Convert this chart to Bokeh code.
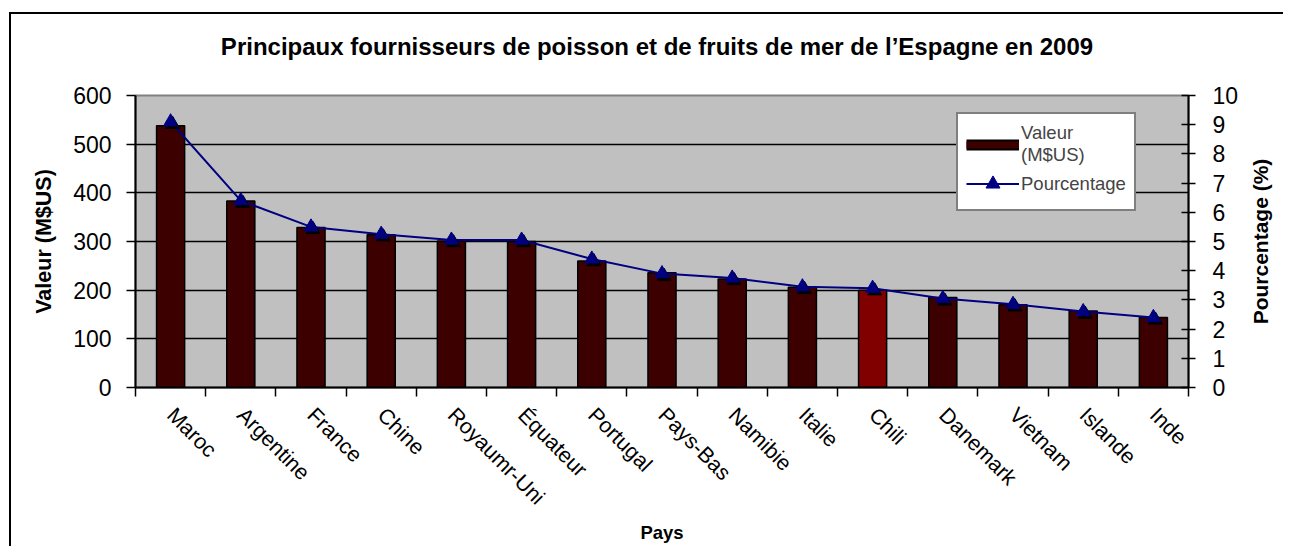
import math
from bokeh.plotting import figure
from bokeh.models import (ColumnDataSource, Range1d, LinearAxis, FixedTicker,
                          Legend, LegendItem, Label)
from bokeh.transform import dodge
from bokeh.embed import file_html
from bokeh.resources import INLINE

# ---- data ----
countries = ["Maroc", "Argentine", "France", "Chine", "Royaumr-Uni", "Équateur",
             "Portugal", "Pays-Bas", "Namibie", "Italie", "Chili", "Danemark",
             "Vietnam", "Islande", "Inde"]
valeur = [538, 383, 329, 314, 301, 300, 260, 236, 223, 206, 200, 185, 170, 157, 144]
pourcentage = [9.1, 6.4, 5.5, 5.25, 5.05, 5.05, 4.4, 3.9, 3.75, 3.45, 3.4, 3.05, 2.85, 2.6, 2.4]
valeur_ticks = [0, 100, 200, 300, 400, 500, 600]
pct_ticks = [0, 1, 2, 3, 4, 5, 6, 7, 8, 9, 10]
highlight = "Chili"
title_text = "Principaux fournisseurs de poisson et de fruits de mer de l\u2019Espagne en 2009"

FONT = "Liberation Sans"
BAR = "#3C0000"
BAR_HI = "#800000"
NAVY = "#000080"
FW, FH = 1053, 292

n = len(countries)
centers = [i + 0.5 for i in range(n)]          # category slots on a linear x scale
edges = list(range(n + 1))                      # slot boundaries (Excel-style ticks)
colors = [BAR_HI if c == highlight else BAR for c in countries]
src = ColumnDataSource(dict(x=centers, pays=countries, valeur=valeur,
                            pct=pourcentage, color=colors))

p = figure(x_range=Range1d(0, n), y_range=Range1d(0, 600),
           frame_width=FW, frame_height=FH,
           min_border_left=124, min_border_right=95, min_border_top=81, min_border_bottom=158,
           output_backend="svg", toolbar_location=None, x_axis_location=None,
           background_fill_color="#C0C0C0", border_fill_color="white")
p.styles = {"margin-left": "9px", "margin-top": "12px",
            "border-left": "2px solid black", "border-top": "2px solid black"}
p.outline_line_color = "#808080"
p.outline_line_width = 2

p.extra_y_ranges = {"pct": Range1d(0, 10)}

# chart title, centred above the frame
p.add_layout(Label(x=FW / 2 - 5, y=49, x_units="screen", y_units="screen",
                   text=title_text, text_align="center", text_baseline="middle",
                   text_font=FONT, text_font_size="24px", text_font_style="bold",
                   text_color="black"), "above")

# left axis
ya = p.yaxis[0]
ya.ticker = FixedTicker(ticks=valeur_ticks)
ya.axis_label = "Valeur (M$US)"
ya.axis_label_text_font = FONT
ya.axis_label_text_font_size = "21.5px"
ya.axis_label_text_font_style = "bold"
ya.axis_label_text_color = "black"
ya.axis_label_standoff = 14
ya.major_label_text_font = FONT
ya.major_label_text_font_size = "23px"
ya.major_label_text_color = "black"
ya.major_label_standoff = 15
ya.major_tick_out = 9
ya.major_tick_in = 0
ya.minor_tick_line_color = None
ya.axis_line_color = "black"
ya.axis_line_width = 2
ya.major_tick_line_width = 1.5

# grid
p.ygrid.ticker = FixedTicker(ticks=valeur_ticks[1:-1])
p.ygrid.grid_line_color = "black"
p.ygrid.grid_line_width = 1.5
p.xgrid.visible = False

# right axis
ra = LinearAxis(y_range_name="pct", ticker=FixedTicker(ticks=pct_ticks))
ra.major_label_text_font = FONT
ra.major_label_text_font_size = "23px"
ra.major_label_text_color = "black"
ra.major_label_standoff = 17
ra.major_tick_out = 7
ra.major_tick_in = 7
ra.minor_tick_line_color = None
ra.axis_line_color = "black"
ra.axis_line_width = 2
ra.major_tick_line_width = 1.5
p.add_layout(ra, "right")

# right axis title, reading bottom to top, centred on the frame height
p.add_layout(Label(x=19, y=FH / 2, x_units="screen", y_units="screen",
                   text="Pourcentage (%)", angle=math.pi / 2,
                   text_align="center", text_baseline="middle",
                   text_font=FONT, text_font_size="21px", text_font_style="bold",
                   text_color="black"), "right")

# bottom axis: labels at slot centres, ticks (minor) at slot boundaries
xa = LinearAxis(ticker=FixedTicker(ticks=centers, minor_ticks=edges), axis_label="Pays",
                major_label_overrides={c: name for c, name in zip(centers, countries)})
xa.major_label_orientation = -math.pi / 4
xa.major_label_text_font = FONT
xa.major_label_text_font_size = "21.5px"
xa.major_label_text_color = "black"
xa.major_label_standoff = 15
xa.major_tick_out = 0
xa.major_tick_in = 0
xa.major_tick_line_color = None
xa.minor_tick_out = 9
xa.minor_tick_in = 0
xa.minor_tick_line_color = "black"
xa.minor_tick_line_width = 1.5
xa.axis_line_color = "black"
xa.axis_line_width = 2
xa.axis_label_text_font = FONT
xa.axis_label_text_font_size = "18.5px"
xa.axis_label_text_font_style = "bold"
xa.axis_label_text_color = "black"
xa.axis_label_standoff = 1
p.add_layout(xa, "below")

# bars
p.vbar(x="x", top="valeur", width=0.4, source=src,
       fill_color="color", line_color="black", line_width=1.5)

# percentage line with triangle markers (and their shadow)
line_r = p.line(x="x", y="pct", source=src, y_range_name="pct",
                line_color=NAVY, line_width=2)
p.scatter(x=dodge("x", 0.03), y=dodge("pct", -0.09), source=src,
          y_range_name="pct", marker="triangle", size=14,
          fill_color="black", line_color="black")
tri_r = p.scatter(x="x", y="pct", source=src, y_range_name="pct",
                  marker="triangle", size=14, fill_color=NAVY, line_color=NAVY)

# legend swatch proxies for the bar entry (no visible data)
nan = float("nan")
sw_out = p.line(x=[nan], y=[nan], line_color="black", line_width=11)
sw_in = p.line(x=[nan], y=[nan], line_color=BAR, line_width=7)

legend = Legend(items=[LegendItem(label="Valeur\n(M$US)", renderers=[sw_out, sw_in]),
                       LegendItem(label="Pourcentage", renderers=[line_r, tri_r])],
                location=(821, 176), margin=0, padding=8, spacing=0,
                glyph_width=53, glyph_height=35, label_standoff=2,
                label_text_font=FONT, label_text_font_size="18.5px",
                label_text_line_height=1.45,
                border_line_color="black", border_line_width=2,
                background_fill_color="white", background_fill_alpha=1.0)
p.add_layout(legend)

open("out.html", "w").write(file_html(p, INLINE))
